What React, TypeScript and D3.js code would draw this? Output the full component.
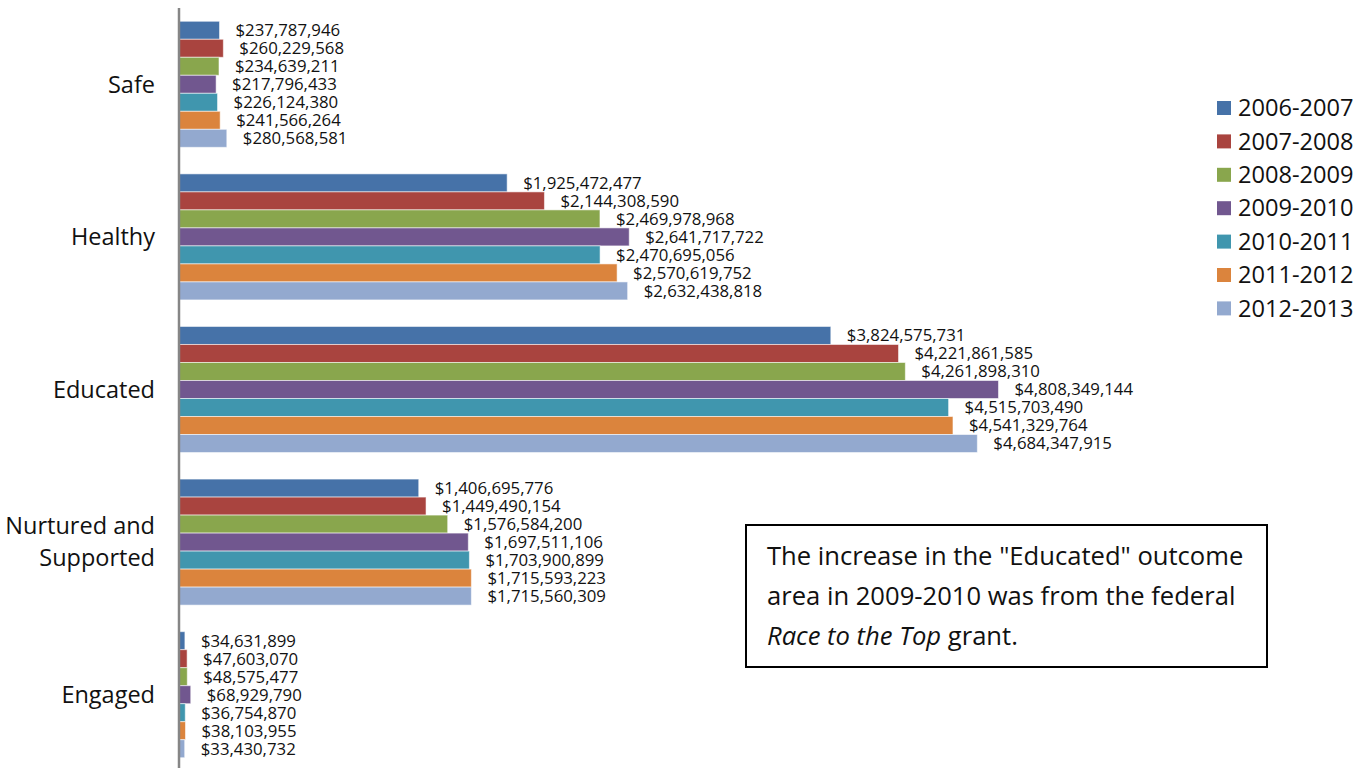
import React from "react";
import * as d3 from "d3";

const categories = ["Safe", "Healthy", "Educated", "Nurtured and Supported", "Engaged"];
const seriesNames = ["2006-2007", "2007-2008", "2008-2009", "2009-2010", "2010-2011", "2011-2012", "2012-2013"];
const seriesColors = ["#4672A8", "#A9443F", "#89A64D", "#71578F", "#4096AE", "#DB843D", "#93A9CF"];

// values[series][category]
const s2006 = [237787946, 1925472477, 3824575731, 1406695776, 34631899];
const s2007 = [260229568, 2144308590, 4221861585, 1449490154, 47603070];
const s2008 = [234639211, 2469978968, 4261898310, 1576584200, 48575477];
const s2009 = [217796433, 2641717722, 4808349144, 1697511106, 68929790];
const s2010 = [226124380, 2470695056, 4515703490, 1703900899, 36754870];
const s2011 = [241566264, 2570619752, 4541329764, 1715593223, 38103955];
const s2012 = [280568581, 2632438818, 4684347915, 1715560309, 33430732];
const seriesValues = [s2006, s2007, s2008, s2009, s2010, s2011, s2012];

const noteLines = [
  [{ t: 'The increase in the "Educated" outcome', i: false }],
  [{ t: "area in 2009-2010 was from the federal", i: false }],
  [{ t: "Race to the Top", i: true }, { t: " grant.", i: false }],
];

const W = 1372;
const H = 768;
const FONT = "'Open Sans', 'DejaVu Sans', sans-serif";

export default function App() {
  const x = d3.scaleLinear().domain([0, 7e9]).range([179, 1372]);
  const y0 = d3.scaleBand<string>().domain(categories).range([8, 771]).paddingInner(0.174).paddingOuter(0.087);
  const y1 = d3.scaleBand<string>().domain(seriesNames).range([0, y0.bandwidth()]);
  const fmt = (v: number) => "$" + d3.format(",")(v);

  return (
    <svg width={W} height={H} style={{ position: "absolute", left: 0, top: 0, background: "#fff" }} fontFamily={FONT}>
      <rect x={0} y={0} width={W} height={H} fill="#fff" />
      {categories.map((c, ci) => (
        <g key={c} transform={`translate(0,${y0(c)})`}>
          {seriesNames.map((s, si) => {
            const v = seriesValues[si][ci];
            const yy = y1(s) as number;
            const bh = y1.bandwidth();
            return (
              <g key={s}>
                <rect x={x(0)} y={yy} width={x(v) - x(0)} height={bh} fill={seriesColors[si]} stroke="#ffffff" strokeOpacity={0.55} strokeWidth={1} />
                <text x={x(v) + 16} y={yy + bh / 2} dy="0.35em" fontSize={16.8} fill="#111">
                  {fmt(v)}
                </text>
              </g>
            );
          })}
        </g>
      ))}
      <line x1={179} x2={179} y1={8} y2={768} stroke="#868686" strokeWidth={2.5} />
      {categories.map((c) => {
        const cy = (y0(c) as number) + y0.bandwidth() / 2;
        const lines = c === "Nurtured and Supported" ? ["Nurtured and", "Supported"] : [c];
        return (
          <text key={c} x={155} textAnchor="end" fontSize={23.5} fill="#111">
            {lines.map((l, li) => (
              <tspan key={li} x={155} y={cy + (li - (lines.length - 1) / 2) * 32} dy="0.35em">
                {l}
              </tspan>
            ))}
          </text>
        );
      })}
      {seriesNames.map((s, si) => (
        <g key={s} transform={`translate(1217,${108 + si * 33.4})`}>
          <rect x={0} y={-7} width={14} height={14} fill={seriesColors[si]} />
          <text x={21} y={0} dy="0.35em" fontSize={23.6} fill="#111">
            {s}
          </text>
        </g>
      ))}
      <rect x={746} y={525} width={521} height={142} fill="#fff" stroke="#000" strokeWidth={2} />
      {noteLines.map((ln, li) => (
        <text key={li} x={767} y={556 + li * 40} dy="0.35em" fontSize={25.6} fill="#111">
          {ln.map((p, pi) => (
            <tspan key={pi} fontStyle={p.i ? "italic" : "normal"}>
              {p.t}
            </tspan>
          ))}
        </text>
      ))}
    </svg>
  );
}
